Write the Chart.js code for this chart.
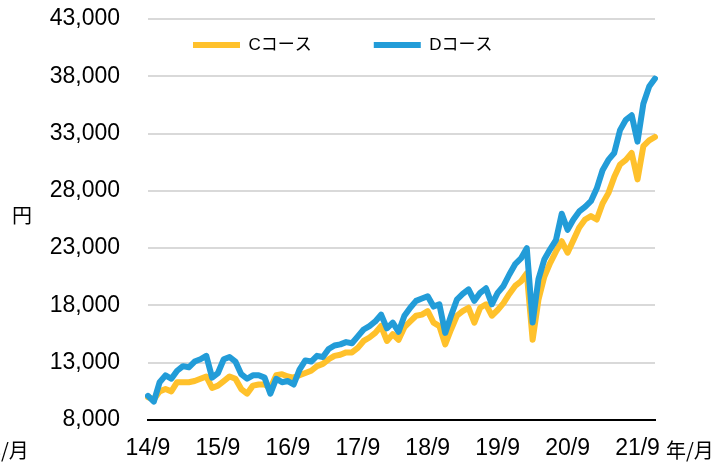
<!DOCTYPE html>
<html>
<head>
<meta charset="utf-8">
<script src="https://cdn.jsdelivr.net/npm/chart.js@4/dist/chart.umd.min.js"></script>
<style>
  body { margin: 0; background: #fff; }
  #wrap { width: 711px; height: 464px; }
</style>
</head>
<body>
<div id="wrap"><canvas id="c" width="711" height="464"></canvas></div>
<script>
// series values, one per month from 2014/9 to 2021/12
const courseC = [
  10000, 9800, 10500, 10700, 10500, 11300, 11300, 11300, 11400, 11600, 11800, 10800,
  11000, 11400, 11800, 11600, 10700, 10300, 11000, 11100, 11100, 10800, 11900, 12000,
  11800, 11700, 11900, 12100, 12300, 12700, 12900, 13300, 13600, 13700, 13900, 13900,
  14300, 14900, 15200, 15600, 16200, 14900, 15500, 15000, 16100, 16600, 17100, 17200,
  17500, 16500, 16200, 14600, 15900, 17100, 17500, 17800, 16500, 17800, 18100, 17100,
  17600, 18200, 19000, 19700, 20100, 20800, 15000, 18500, 20500, 21700, 22700, 23600,
  22600, 23700, 24800, 25500, 25800, 25500, 26900, 27800, 29200, 30300, 30700, 31300,
  29000, 31900, 32400, 32700
];
const courseD = [
  10100, 9600, 11300, 11900, 11600, 12300, 12700, 12600, 13100, 13300, 13600, 11700,
  12100, 13300, 13500, 13100, 12000, 11600, 11900, 11900, 11700, 10300, 11600, 11300,
  11400, 11100, 12400, 13200, 13100, 13600, 13500, 14200, 14500, 14600, 14800, 14700,
  15300, 15900, 16200, 16600, 17200, 16000, 16500, 15700, 17100, 17800, 18400, 18600,
  18800, 17900, 18100, 15600, 17100, 18500, 19000, 19400, 18400, 19100, 19500, 18100,
  19100, 19700, 20700, 21600, 22100, 23000, 16500, 20300, 22000, 22900, 23700, 26000,
  24600, 25500, 26200, 26600, 27100, 28200, 29800, 30700, 31300, 33300, 34200, 34600,
  32300, 35600, 37100, 37800
];
const seriesNames = ['Cコース', 'Dコース'];

// month categories 14/9 ... 21/12, only the /9 ones get a tick label
const months = [];
for (let y = 14, m = 9; months.length < courseC.length; m++) {
  if (m > 12) { m = 1; y++; }
  months.push(y + '/' + m);
}

const FONT = "Arial, 'Liberation Sans', 'Noto Sans CJK JP', sans-serif";
const CJK = "'Noto Sans CJK JP', 'Liberation Sans', sans-serif";

// unit texts
const unitText = {
  id: 'unitText',
  afterDraw(chart) {
    const ctx = chart.ctx;
    ctx.save();
    ctx.fillStyle = '#000';
    ctx.font = '20px ' + CJK;
    ctx.textBaseline = 'middle';
    ctx.textAlign = 'center';
    ctx.fillText('円', 22, 215);
    ctx.textAlign = 'left';
    ctx.fillText('年/月', 666, 450);
    ctx.fillText('年/月', -19, 450);
    ctx.restore();
  }
};

// legend is drawn inside the plot, so it must not take layout space
const legendNudge = {
  id: 'legendNudge',
  beforeLayout(chart) {
    const lg = chart.legend;
    if (lg && !lg._noSpace) {
      const fit = lg.fit.bind(lg);
      lg.fit = function () { fit(); this.height = 0; };
      lg._noSpace = true;
    }
  },
  afterLayout(chart) {
    const lg = chart.legend;
    lg.left = 131;
    lg.right = 650;
    lg.width = lg.right - lg.left;
    lg.top = -25.5;
    lg.bottom = 120;
    lg.height = lg.bottom - lg.top;
  }
};

new Chart(document.getElementById('c'), {
  type: 'line',
  data: {
    labels: months,
    datasets: [
      {
        label: seriesNames[0],
        data: courseC,
        borderColor: '#FFC12B',
        backgroundColor: '#FFC12B',
        order: 2
      },
      {
        label: seriesNames[1],
        data: courseD,
        borderColor: '#229CD8',
        backgroundColor: '#229CD8',
        order: 1
      }
    ]
  },
  options: {
    responsive: false,
    animation: false,
    devicePixelRatio: 1,
    layout: { padding: { left: 0, right: 56, top: 19, bottom: 0 } },
    elements: {
      line: { borderWidth: 6, tension: 0, borderJoinStyle: 'round', borderCapStyle: 'round' },
      point: { radius: 0, hoverRadius: 0, borderWidth: 6 }
    },
    plugins: {
      tooltip: { enabled: false },
      legend: {
        position: 'top',
        fullSize: false,
        align: 'start',
        labels: {
          usePointStyle: true,
          pointStyle: 'line',
          pointStyleWidth: 47,
          padding: 62,
          color: '#000',
          font: { family: FONT, size: 17 },
          sort: (a, b) => a.datasetIndex - b.datasetIndex
        }
      }
    },
    scales: {
      x: {
        offset: false,
        grid: { display: false, drawTicks: false },
        border: { display: true, color: '#000', width: 2 },
        ticks: {
          autoSkip: false,
          maxRotation: 0,
          minRotation: 0,
          padding: 15,
          color: '#000',
          font: { family: FONT, size: 23 },
          callback: function (v) {
            const l = this.getLabelForValue(v);
            return l.endsWith('/9') ? l : '';
          }
        },
        afterFit: (s) => { s.height = 44; }
      },
      y: {
        min: 8000,
        max: 43000,
        grid: { color: '#d9d9d9', lineWidth: 2, drawTicks: false },
        border: { display: false },
        ticks: {
          stepSize: 5000,
          padding: 28,
          color: '#000',
          font: { family: FONT, size: 23 },
          callback: (v) => v.toLocaleString('en-US')
        },
        afterFit: (s) => { s.width = 148; s.paddingTop = 12; s.paddingBottom = 12; }
      }
    }
  },
  plugins: [unitText, legendNudge]
});
</script>
</body>
</html>
